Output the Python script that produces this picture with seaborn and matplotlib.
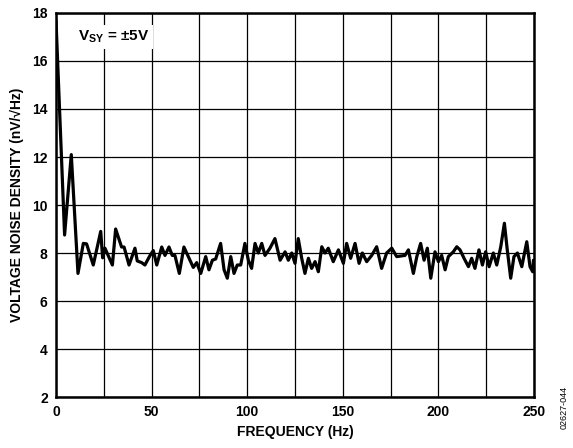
import matplotlib
matplotlib.use('Agg')
import matplotlib.pyplot as plt
import seaborn as sns
import pandas as pd

# voltage noise density vs frequency
freq = [0.0, 4.5, 8.0, 11.5,
        14.3, 16.0, 19.5, 23.4, 24.4, 25.6, 29.5, 31.2, 34.3, 35.6, 38.2, 41.3,
        42.5, 44.8, 46.5, 49.2, 50.9, 52.7, 55.3, 57.0, 59.1, 60.8, 62.2, 64.5,
        66.9, 69.2, 71.8, 73.6, 75.7, 78.3, 80.0, 81.8, 83.5, 86.1, 87.9, 89.6,
        91.4, 93.1, 94.8, 96.6,
        98.8, 100.6, 102.3, 104.1, 105.8, 107.6, 109.3, 111.9, 114.5, 117.2,
        119.8, 121.5, 123.3, 125.0, 126.7, 128.5, 130.2, 132.0, 133.7, 135.5,
        137.2, 139.0, 140.7, 142.4, 145.0, 147.7, 150.3, 152.0, 154.1, 156.4,
        158.5, 160.2, 162.5, 165.1, 167.7, 170.3, 172.9, 175.6, 178.2,
        182.5, 184.3, 186.9, 188.7, 190.7, 192.5, 194.2, 196.0, 198.2, 200.0,
        201.7, 203.5, 205.2, 207.8, 209.6, 211.3, 213.4, 215.7, 217.4, 219.1,
        221.2, 223.0, 224.7, 226.5, 228.7, 230.5, 232.6, 234.5, 236.0, 237.8,
        239.5, 241.3, 243.6, 246.2, 247.9, 249.3, 249.7]
noise = [17.7, 8.75, 12.1, 7.15,
         8.4, 8.38, 7.5, 8.9, 7.8, 8.2, 7.5, 9.0, 8.25, 8.25, 7.5, 8.2,
         7.67, 7.6, 7.5, 7.9, 8.1, 7.5, 8.25, 7.9, 8.25, 7.9, 7.9, 7.15,
         8.25, 7.85, 7.4, 7.6, 7.15, 7.85, 7.3, 7.7, 7.75, 8.4, 7.3, 6.95,
         7.85, 7.15, 7.5, 7.5,
         8.4, 7.7, 7.36, 8.4, 8.0, 8.4, 7.9, 8.2, 8.6, 7.7,
         8.05, 7.7, 8.0, 7.57, 8.6, 7.78, 7.15, 7.78, 7.36, 7.64,
         7.22, 8.26, 8.0, 8.2, 7.64, 8.13, 7.57, 8.4, 7.78, 8.4,
         7.57, 8.0, 7.64, 7.9, 8.26, 7.36, 8.0, 8.2, 7.85,
         7.9, 8.13, 7.15, 7.85, 8.4, 7.7, 8.2, 6.95, 8.05, 7.64,
         7.9, 7.3, 7.85, 8.05, 8.26, 8.13, 7.78, 7.43, 7.78, 7.36,
         8.13, 7.5, 8.05, 7.43, 8.0, 7.5, 8.26, 9.24, 8.13, 6.95,
         7.85, 8.0, 7.43, 8.47, 7.43, 7.22, 7.7]

x_ticks = list(range(0, 251, 25))
x_labels = [str(t) if t % 50 == 0 else '' for t in x_ticks]
y_ticks = list(range(2, 19, 2))

df = pd.DataFrame({'freq': freq, 'noise': noise})

sns.set_style('white')
plt.rcParams['font.family'] = ['Liberation Sans', 'DejaVu Sans']
plt.rcParams['mathtext.fontset'] = 'custom'
plt.rcParams['mathtext.bf'] = 'Liberation Sans:bold'
plt.rcParams['mathtext.rm'] = 'Liberation Sans'
for key in ['text.color', 'axes.labelcolor', 'xtick.color', 'ytick.color']:
    plt.rcParams[key] = 'black'

fig = plt.figure(figsize=(5.73, 4.48), dpi=100)
ax = fig.add_axes([0.0977, 0.1138, 0.8343, 0.8572])

ax.set_xlim(0, 250)
ax.set_ylim(2, 18)
ax.set_xticks(x_ticks)
ax.set_xticklabels(x_labels)
ax.set_yticks(y_ticks)
ax.grid(True, color='black', lw=0.9)
ax.set_axisbelow(True)
for s in ax.spines.values():
    s.set_color('black')
    s.set_linewidth(1.8)

sns.lineplot(data=df, x='freq', y='noise', color='black', lw=2.3, sort=False, ax=ax)

ax.tick_params(length=0, labelsize=10, pad=6)
for lab in ax.get_xticklabels() + ax.get_yticklabels():
    lab.set_fontweight('bold')

ax.set_xlabel('FREQUENCY (Hz)', fontsize=10, fontweight='bold', labelpad=4)
ax.set_ylabel('VOLTAGE NOISE DENSITY (nV/\u221aHz)', fontsize=10, fontweight='bold', labelpad=6)

ax.text(11.5, 17.0, r'V$_{\mathbf{SY}}$ = ' + '\u00b15V', fontsize=11, fontweight='bold',
        va='center', ha='left', bbox=dict(facecolor='white', edgecolor='none', pad=3))

fig.text(0.985, 0.09, '02627-044', rotation=90, fontsize=6.5, ha='center', va='center')

fig.savefig('out.png', dpi=100)
